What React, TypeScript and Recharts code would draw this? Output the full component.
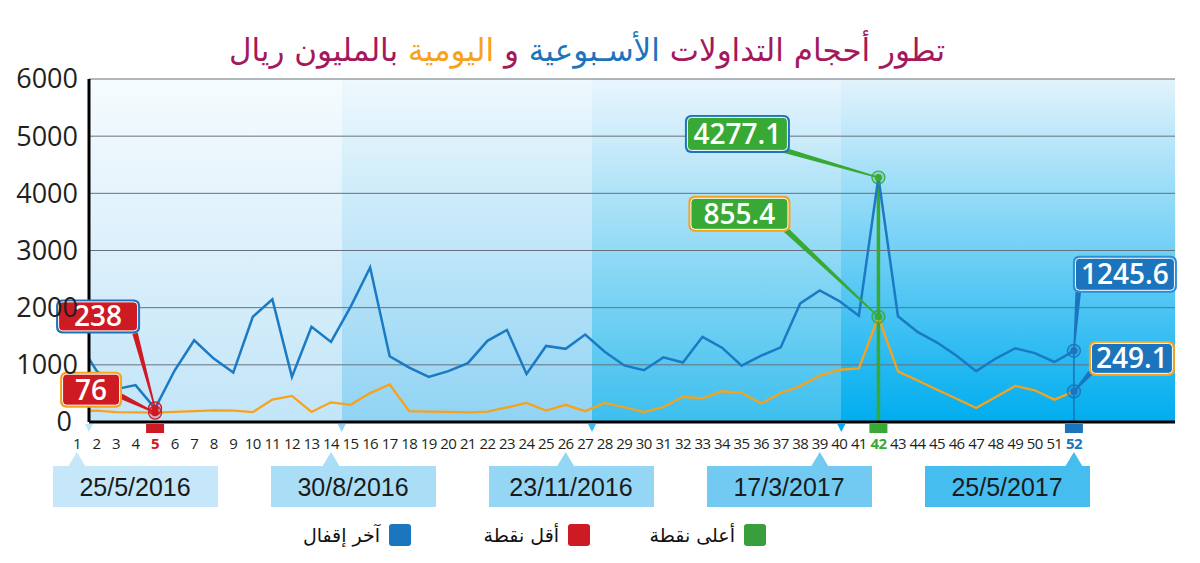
import React from "react";
import { LineChart, Line, XAxis, YAxis, CartesianGrid, ReferenceDot, ReferenceLine } from "recharts";

// week numbers on the x axis
const weeks = Array.from({ length: 52 }, (_, i) => i + 1);

// آخر إقفال – weekly volume (million SAR)
const weeklyVolume = [
  1450, 900, 575, 645, 238, 900, 1430, 1110, 865, 1840, 2145, 790, 1665, 1400, 2015, 2705, 1150, 950, 790, 890,
  1030, 1420, 1610, 840, 1330, 1280, 1530, 1230, 990, 905, 1130, 1040, 1490, 1300, 985, 1160, 1305, 2075, 2300, 2115,
  1860, 4277.1, 1850, 1575, 1390, 1160, 890, 1110, 1290, 1205, 1050, 1245.6,
];

// daily volume (million SAR), drawn against its own hidden axis
const dailyVolume = [
  85, 92, 80, 78, 76, 82, 88, 95, 92, 80, 182, 212, 82, 160, 140, 235, 305, 88, 84, 82,
  78, 84, 118, 155, 93, 140, 88, 155, 120, 80, 122, 205, 192, 250, 237, 150, 236, 292, 378, 425,
  435, 855.4, 412, 338, 263, 189, 114, 204, 293, 258, 182, 249.1,
];

const yTicks = [0, 1000, 2000, 3000, 4000, 5000, 6000];
const dateWeeks = [1, 14, 26, 39, 52];
const dateLabels = ["25/5/2016", "30/8/2016", "23/11/2016", "17/3/2017", "25/5/2017"];
const periodStarts = [14.55, 27.35, 40.1];

const titleParts = [
  { text: "تطور أحجام التداولات ", color: "#a3195b" },
  { text: "الأسـبوعية", color: "#1c75bc" },
  { text: " و ", color: "#a3195b" },
  { text: "اليومية", color: "#f7a21b" },
  { text: " بالمليون ريال", color: "#a3195b" },
];
const legendItems = [
  { label: "أعلى نقطة", color: "#389f3c" },
  { label: "أقل نقطة", color: "#cd1a23" },
  { label: "آخر إقفال", color: "#1a77bd" },
];
const legendRight = [434, 610, 789];

const data = weeks.map((w, i) => ({ week: w, weekly: weeklyVolume[i], daily: dailyVolume[i] }));

const BLUE = "#1a7ac4";
const ORANGE = "#f7a21b";
const RED = "#cd1a23";
const GREEN = "#39a935";
const XMIN = 1.62;
const XMAX = 57.17;
const DAILY_MAX = 2790;
const highlight: Record<number, string> = { 5: RED, 42: GREEN, 52: "#1c75bc" };
const bandFills = ["url(#band0)", "url(#band1)", "url(#band2)", "url(#band3)"];
const bandColors = [
  ["#f6fbfe", "#c2e5f8"],
  ["#eef8fd", "#90d3f4"],
  ["#e9f5fd", "#3cbfee"],
  ["#e2f3fc", "#00adef"],
];
const dateBoxFills = ["#c6e7f9", "#aadef7", "#95d6f5", "#72caf2", "#46bdef"];

function WeekTick({ x, y, payload }: any) {
  const c = highlight[payload.value];
  return (
    <g>
      {c && <rect x={x - 9} y={y + 2} width={18} height={9} fill={c} />}
      <text x={x} y={y + 22} dy="0.35em" textAnchor="middle" fontSize={15} letterSpacing={-0.6}
        fontFamily="Open Sans" fontWeight={c ? 700 : 400} fill={c ?? "#231f20"}>
        {payload.value}
      </text>
    </g>
  );
}

function ValueTick({ x, y, payload }: any) {
  return (
    <text x={payload.value === 0 ? x - 6 : x} y={y} dy="0.35em" textAnchor="end" fontSize={27}
      fontFamily="Open Sans" fill="#231f20">{payload.value}</text>
  );
}

function DateTick({ x, y, index }: any) {
  const left = 53 + index * 218;
  const fill = dateBoxFills[index];
  return (
    <g>
      <polygon points={`${x},${y} ${x - 9},${y + 15} ${x + 9},${y + 15}`} fill={fill} />
      <rect x={left} y={y + 14} width={165} height={41} fill={fill} />
      <text x={left + 82} y={y + 35} dy="0.35em" textAnchor="middle" fontSize={25}
        fontFamily="Liberation Sans" fill="#1a1a1a">{dateLabels[index]}</text>
    </g>
  );
}

type Spec = { text: string; fill: string; border: string; dx: number; dy: number; w: number; h: number; ax: number; ay: number };

function Callout({ cx, cy, spec }: any) {
  const s = spec as Spec;
  const bx = cx + s.dx, by = cy + s.dy;
  const sx = bx + s.ax, sy = by + s.ay;
  const a = Math.atan2(cy - sy, cx - sx);
  const nx = -Math.sin(a), ny = Math.cos(a);
  const pts = [
    [sx + nx * 2.8, sy + ny * 2.8], [cx + nx * 0.7, cy + ny * 0.7],
    [cx - nx * 0.7, cy - ny * 0.7], [sx - nx * 2.8, sy - ny * 2.8],
  ].map((p) => p.join(",")).join(" ");
  return (
    <g>
      <polygon points={pts} fill={s.fill} />
      <circle cx={cx} cy={cy} r={6.5} fill={s.fill} fillOpacity={0.25} stroke={s.fill} strokeWidth={1.2} />
      <circle cx={cx} cy={cy} r={3.5} fill={s.fill} />
      <rect x={bx - s.w / 2} y={by - s.h / 2} width={s.w} height={s.h} rx={6} fill={s.border} />
      <rect x={bx - s.w / 2 + 2.5} y={by - s.h / 2 + 2.5} width={s.w - 5} height={s.h - 5} rx={4}
        fill={s.fill} stroke="#ffffff" strokeWidth={1} />
      <text x={bx} y={by} dy="0.36em" textAnchor="middle" fontSize={28} fontWeight={600}
        fontFamily="Open Sans" fill="#ffffff">{s.text}</text>
    </g>
  );
}

function Tri({ cx, cy, color }: any) {
  return <polygon points={`${cx - 4},${cy + 2} ${cx + 4},${cy + 2} ${cx},${cy + 10}`} fill={color} />;
}

export default function App() {
  const last = weeks.length - 1;
  const low = 4;
  const high = 41;
  return (
    <div style={{ position: "absolute", left: 0, top: 0, width: 1200, height: 563, background: "#fff" }}>
      <div style={{ position: "absolute", top: 26, left: 0, width: 1174, textAlign: "center", direction: "rtl",
        fontFamily: "DejaVu Sans", fontSize: 31, lineHeight: "48px" }}>
        {titleParts.map((p, i) => <span key={i} style={{ color: p.color }}>{p.text}</span>)}
      </div>
      <LineChart width={1200} height={563} data={data} margin={{ top: 79, right: 25, bottom: 39, left: 9 }}>
        <defs>
          {bandColors.map((c, i) => (
            <linearGradient key={i} id={`band${i}`} x1="0" y1="0" x2="0" y2="1">
              <stop offset="0%" stopColor={c[0]} />
              <stop offset="100%" stopColor={c[1]} />
            </linearGradient>
          ))}
        </defs>
        <CartesianGrid horizontal={false} stroke="none" verticalValues={[XMIN, ...periodStarts]} verticalFill={bandFills} />
        <CartesianGrid vertical={false} stroke="#66727b" strokeWidth={1} />
        <XAxis dataKey="week" type="number" domain={[XMIN, XMAX]} allowDataOverflow ticks={weeks} interval={0}
          height={30} tickSize={0} tickMargin={0} tick={<WeekTick />} axisLine={{ stroke: "#000", strokeWidth: 3 }} />
        <XAxis xAxisId="dates" dataKey="week" type="number" domain={[XMIN, XMAX]} allowDataOverflow ticks={dateWeeks}
          interval={0} height={72} tickSize={0} tickMargin={0} tick={<DateTick />} axisLine={false} tickLine={false} />
        <YAxis domain={[0, 6000]} ticks={yTicks} width={80} tickSize={0} tickMargin={11}
          axisLine={{ stroke: "#000", strokeWidth: 3 }} tick={<ValueTick />} />
        <YAxis yAxisId="d" domain={[0, DAILY_MAX]} hide />
        <ReferenceLine segment={[{ x: weeks[high], y: weeklyVolume[high] }, { x: weeks[high], y: 0 }]}
          stroke={GREEN} strokeWidth={3.5} />
        <ReferenceLine segment={[{ x: weeks[last], y: weeklyVolume[last] }, { x: weeks[last], y: 0 }]}
          stroke="#1c6fb5" strokeWidth={1.5} />
        <Line dataKey="daily" yAxisId="d" stroke={ORANGE} strokeWidth={2.3} dot={false} isAnimationActive={false} />
        <Line dataKey="weekly" stroke={BLUE} strokeWidth={2.5} dot={false} isAnimationActive={false} />
        {[XMIN, ...periodStarts].map((x, i) => (
          <ReferenceDot key={"t" + i} x={x} y={0} r={0} shape={(p: any) => <Tri {...p} color={bandColors[i][1]} />} />
        ))}
        <ReferenceDot x={weeks[low]} y={weeklyVolume[low]} shape={(p: any) => <Callout {...p} spec={{ text: String(weeklyVolume[low]), fill: RED, border: "#1c75bc", dx: -57, dy: -92, w: 84, h: 34, ax: 37, ay: 17 }} />} />
        <ReferenceDot x={weeks[low]} y={dailyVolume[low]} yAxisId="d" shape={(p: any) => <Callout {...p} spec={{ text: String(dailyVolume[low]), fill: RED, border: ORANGE, dx: -64, dy: -23, w: 62, h: 36, ax: 30, ay: 6.5 }} />} />
        <ReferenceDot x={weeks[high]} y={weeklyVolume[high]} shape={(p: any) => <Callout {...p} spec={{ text: String(weeklyVolume[high]), fill: GREEN, border: "#1c75bc", dx: -141, dy: -43.6, w: 105, h: 38, ax: 45.5, ay: 16 }} />} />
        <ReferenceDot x={weeks[high]} y={dailyVolume[high]} yAxisId="d" shape={(p: any) => <Callout {...p} spec={{ text: String(dailyVolume[high]), fill: GREEN, border: ORANGE, dx: -139, dy: -103, w: 102, h: 36, ax: 46.5, ay: 16 }} />} />
        <ReferenceDot x={weeks[last]} y={weeklyVolume[last]} shape={(p: any) => <Callout {...p} spec={{ text: String(weeklyVolume[last]), fill: "#1c75bc", border: "#2b8fd8", dx: 51, dy: -76.5, w: 104, h: 37, ax: -46.7, ay: 17.7 }} />} />
        <ReferenceDot x={weeks[last]} y={dailyVolume[last]} yAxisId="d" shape={(p: any) => <Callout {...p} spec={{ text: String(dailyVolume[last]), fill: "#1c75bc", border: ORANGE, dx: 58, dy: -33, w: 86, h: 35, ax: -41, ay: 14 }} />} />
      </LineChart>
      {legendItems.map((it, i) => (
        <div key={it.label} style={{ position: "absolute", top: 524, right: legendRight[i], display: "flex",
          direction: "rtl", alignItems: "center", gap: 9, fontFamily: "DejaVu Sans", fontSize: 19 }}>
          <span style={{ width: 22, height: 22, borderRadius: 3, background: it.color, display: "inline-block" }} />
          <span style={{ color: "#111" }}>{it.label}</span>
        </div>
      ))}
    </div>
  );
}
